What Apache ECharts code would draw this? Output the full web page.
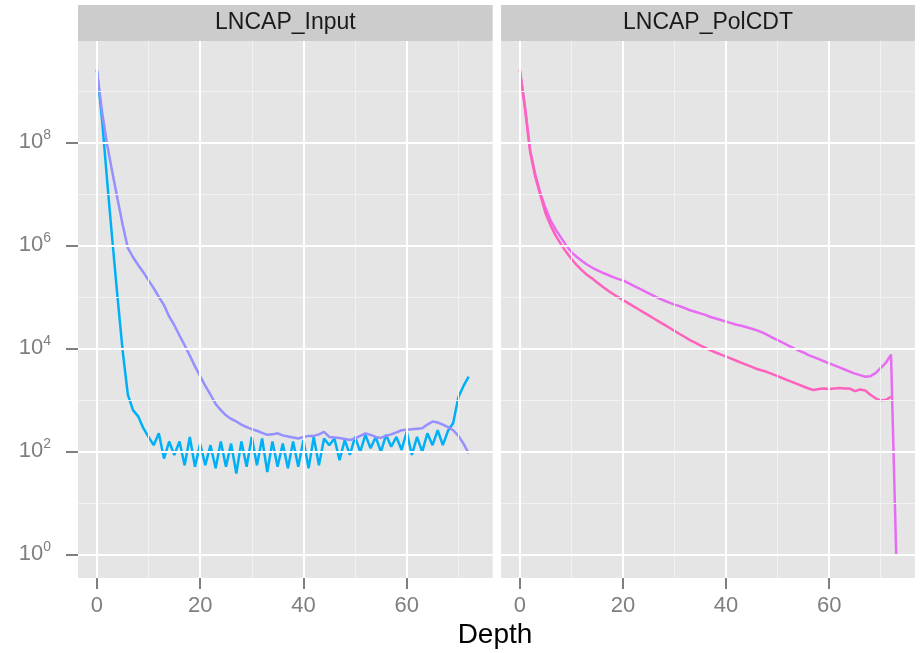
<!DOCTYPE html>
<html>
<head>
<meta charset="utf-8">
<script src="https://cdn.jsdelivr.net/npm/echarts@6/dist/echarts.min.js"></script>
<style>
  html, body { margin: 0; padding: 0; background: #ffffff; }
  #chart { width: 920px; height: 653px; }
</style>
</head>
<body>
<div id="chart"></div>
<script>
// ---- Data (y values are log10 of counts) ----
const panelTitles = ['LNCAP_Input', 'LNCAP_PolCDT'];
const depth = [0,1,2,3,4,5,6,7,8,9,10,11,12,13,14,15,16,17,18,19,20,21,22,23,24,25,26,27,28,29,30,31,32,33,34,35,36,37,38,39,40,41,42,43,44,45,46,47,48,49,50,51,52,53,54,55,56,57,58,59,60,61,62,63,64,65,66,67,68,69,70,71,72,73];

// LNCAP_Input, blue series
const inputBlueLog10 = [
  9.41, 8.45, 7.25, 6.1, 5.0, 3.95, 3.1, 2.8, 2.68, 2.45,
  2.28, 2.12, 2.35, 1.86, 2.19, 1.93, 2.19, 1.73, 2.28, 1.70,
  2.15, 1.73, 2.12, 1.67, 2.19, 1.70, 2.15, 1.57, 2.19, 1.70,
  2.28, 1.73, 2.25, 1.60, 2.19, 1.70, 2.15, 1.67, 2.19, 1.70,
  2.22, 1.67, 2.28, 1.73, 2.25, 2.12, 2.25, 1.83, 2.22, 1.93,
  2.28, 1.99, 2.32, 2.06, 2.28, 1.99, 2.32, 2.09, 2.28, 2.03,
  2.38, 1.93, 2.28, 1.99, 2.35, 2.12, 2.41, 2.12, 2.40, 2.55,
  3.05, 3.27, 3.45
];
// LNCAP_Input, purple series
const inputPurpleLog10 = [
  9.41, 8.6, 7.95, 7.42, 6.9, 6.4, 5.95, 5.77, 5.62, 5.48,
  5.32, 5.17, 5.0, 4.84, 4.62, 4.45, 4.25, 4.06, 3.86, 3.65,
  3.46, 3.27, 3.1, 2.92, 2.80, 2.70, 2.63, 2.58, 2.52, 2.47,
  2.43, 2.40, 2.36, 2.32, 2.33, 2.35, 2.31, 2.29, 2.27, 2.25,
  2.28, 2.30, 2.30, 2.33, 2.38, 2.28, 2.27, 2.26, 2.24, 2.22,
  2.25, 2.30, 2.35, 2.32, 2.28, 2.26, 2.30, 2.33, 2.37, 2.41,
  2.42, 2.43, 2.44, 2.45, 2.52, 2.58, 2.56, 2.52, 2.47, 2.41,
  2.30, 2.15, 1.96
];
// LNCAP_PolCDT, magenta series
const polMagentaLog10 = [
  9.41, 8.7, 7.85, 7.38, 7.01, 6.72, 6.48, 6.3, 6.15, 6.0,
  5.87, 5.78, 5.70, 5.63, 5.57, 5.52, 5.47, 5.43, 5.39, 5.35,
  5.32, 5.27, 5.22, 5.17, 5.12, 5.07, 5.02, 4.97, 4.93, 4.89,
  4.85, 4.82, 4.78, 4.74, 4.71, 4.68, 4.65, 4.61, 4.58, 4.55,
  4.52, 4.49, 4.46, 4.44, 4.41, 4.38, 4.35, 4.31, 4.26, 4.21,
  4.16, 4.11, 4.06, 4.01, 3.96, 3.92, 3.87, 3.83, 3.79, 3.75,
  3.71, 3.67, 3.63, 3.59, 3.55, 3.51, 3.48, 3.45, 3.46, 3.52,
  3.62, 3.72, 3.88, 0.0
];
// LNCAP_PolCDT, pink series
const polPinkLog10 = [
  9.41, 8.65, 7.82, 7.33, 6.97, 6.62, 6.38, 6.18, 6.02, 5.87,
  5.74, 5.62, 5.52, 5.43, 5.36, 5.28, 5.20, 5.13, 5.06, 5.0,
  4.94, 4.88, 4.82, 4.76, 4.70, 4.64, 4.58, 4.52, 4.46, 4.40,
  4.34, 4.28, 4.22, 4.16, 4.11, 4.06, 4.01, 3.96, 3.92, 3.88,
  3.84, 3.80, 3.76, 3.72, 3.68, 3.64, 3.60, 3.57, 3.54, 3.50,
  3.46, 3.42, 3.38, 3.34, 3.30, 3.26, 3.22, 3.19, 3.21, 3.22,
  3.21, 3.22, 3.23, 3.22, 3.22, 3.17, 3.20, 3.18, 3.10, 3.03,
  2.99, 3.00, 3.06
];

// tick values
const xMajorTicks = [0, 20, 40, 60];
const xMinorTicks = [10, 30, 50, 70];
const yMajorTicks = [0, 2, 4, 6, 8];   // exponents of 10
const yMinorTicks = [1, 3, 5, 7, 9];

// ---- Styling ----
const colors = { blue: '#00B0F6', purple: '#9590FF', magenta: '#E76BF3', pink: '#FF62BC' };
const FONT = '"Liberation Sans", Arial, Helvetica, sans-serif';
const xRange = [-3.65, 76.65];
const yRange = [-0.46, 9.97];
const grids = [
  { left: 78, top: 41, width: 414.7, height: 537 },
  { left: 501, top: 41, width: 414, height: 537 }
];

function toPairs(vals) { return vals.map((v, i) => [depth[i], v]); }

function gridLineSeries(gi) {
  const major = { color: '#ffffff', width: 2, type: 'solid' };
  const minor = { color: '#f2f2f2', width: 1, type: 'solid' };
  const data = [];
  yMinorTicks.forEach(v => data.push({ yAxis: v, lineStyle: minor }));
  xMinorTicks.forEach(v => data.push({ xAxis: v, lineStyle: minor }));
  yMajorTicks.forEach(v => data.push({ yAxis: v, lineStyle: major }));
  xMajorTicks.forEach(v => data.push({ xAxis: v, lineStyle: major }));
  return {
    type: 'line', xAxisIndex: gi, yAxisIndex: gi, data: [], silent: true, z: 1,
    markLine: { silent: true, symbol: ['none', 'none'], label: { show: false }, animation: false, data: data }
  };
}

function dataSeries(gi, vals, color) {
  return {
    type: 'line', xAxisIndex: gi, yAxisIndex: gi, data: toPairs(vals),
    showSymbol: false, symbol: 'none', z: 3, silent: true,
    lineStyle: { color: color, width: 2.5 }, itemStyle: { color: color }
  };
}

const tickColor = '#7f7f7f';
const hiddenLine = { show: true, onZero: false, lineStyle: { color: 'rgba(0,0,0,0)', width: 0 } };

const xAxes = [0, 1].map(gi => ({
  type: 'value', gridIndex: gi, min: xRange[0], max: xRange[1],
  axisLine: hiddenLine,
  axisTick: { show: true, customValues: xMajorTicks, length: 11, lineStyle: { color: tickColor, width: 2 } },
  axisLabel: { show: true, customValues: xMajorTicks, margin: 17, color: tickColor, fontSize: 22, fontFamily: FONT },
  splitLine: { show: false }
}));

const yAxes = [0, 1].map(gi => ({
  type: 'value', gridIndex: gi, min: yRange[0], max: yRange[1],
  axisLine: hiddenLine,
  axisTick: { show: gi === 0, customValues: yMajorTicks, length: 12, lineStyle: { color: tickColor, width: 2 } },
  axisLabel: {
    show: gi === 0, customValues: yMajorTicks, margin: 27,
    formatter: v => '{b|10}{s|' + v + '}',
    rich: {
      b: { fontSize: 22, color: tickColor, fontFamily: FONT, lineHeight: 28 },
      s: { fontSize: 14, color: tickColor, fontFamily: FONT, lineHeight: 14, verticalAlign: 'top' }
    }
  },
  splitLine: { show: false }
}));

const graphics = [];
grids.forEach((g, i) => {
  graphics.push({
    type: 'rect', silent: true, z: 0,
    shape: { x: g.left, y: 5, width: g.width, height: 36 },
    style: { fill: '#cccccc' }
  });
  graphics.push({
    type: 'text', silent: true, z: 1,
    style: {
      x: g.left + g.width / 2, y: 23, text: panelTitles[i], textAlign: 'center', textVerticalAlign: 'middle',
      fontSize: 23, fontFamily: FONT, fill: '#1a1a1a'
    }
  });
});
graphics.push({
  type: 'text', silent: true,
  style: {
    x: 495, y: 635, text: 'Depth', textAlign: 'center', textVerticalAlign: 'middle',
    fontSize: 28, fontFamily: FONT, fill: '#000000'
  }
});

const option = {
  animation: false,
  backgroundColor: '#ffffff',
  grid: grids.map(g => Object.assign({ show: true, backgroundColor: '#e5e5e5', borderWidth: 0, containLabel: false }, g)),
  xAxis: xAxes,
  yAxis: yAxes,
  graphic: graphics,
  series: [
    gridLineSeries(0),
    gridLineSeries(1),
    dataSeries(0, inputBlueLog10, colors.blue),
    dataSeries(0, inputPurpleLog10, colors.purple),
    dataSeries(1, polMagentaLog10, colors.magenta),
    dataSeries(1, polPinkLog10, colors.pink)
  ]
};

const chart = echarts.init(document.getElementById('chart'), null, { renderer: 'canvas' });
chart.setOption(option);
</script>
</body>
</html>
